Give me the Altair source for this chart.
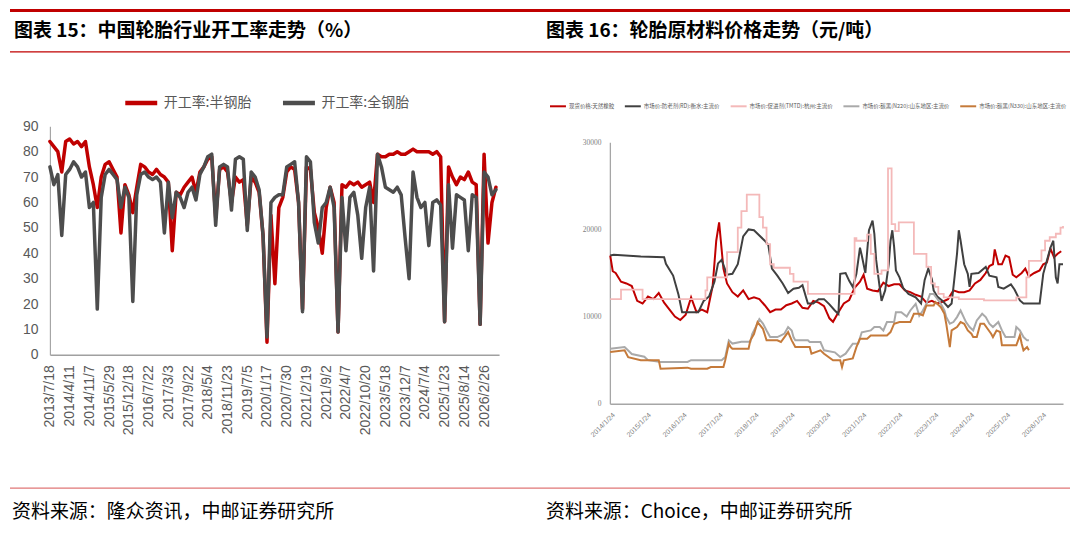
import json
import altair as alt
import pandas as pd

CJK = "Noto Sans CJK SC"

# ---------------- Left chart data (index units: 5 points per labelled category) ----------------
left_labels = ["2013/7/18", "2014/4/11", "2014/11/7", "2015/5/29", "2015/12/18", "2016/7/22",
               "2017/3/3", "2017/9/22", "2018/5/4", "2018/11/23", "2019/7/5", "2020/1/17",
               "2020/7/30", "2021/2/19", "2021/9/2", "2022/4/7", "2022/10/20", "2023/5/18",
               "2023/12/7", "2024/7/4", "2025/1/23", "2025/8/14", "2026/2/26"]

semi_steel = [84, 82, 80, 72, 84, 85, 83, 84, 82, 84,
              74, 67, 58, 70, 75, 76, 73, 70, 48, 67,
              63, 56, 66, 75, 74, 72, 71, 73, 71, 70,
              68, 41, 64, 63, 66, 68, 70, 64, 72, 74,
              77, 78, 54, 73, 74, 72, 60, 70, 68, 69,
              51, 70, 68, 64, 47, 5, 55, 28, 58, 62,
              72, 74, 73, 60, 18, 74, 73, 56, 50, 40,
              58, 66, 60, 9, 67, 66, 68, 67, 68, 66,
              67, 68, 60, 79, 78, 78, 79, 79, 80, 79,
              79, 80, 81, 80, 80, 80, 80, 79, 80, 78,
              13, 74, 70, 67, 70, 69, 72, 68, 67, 12,
              79, 44, 60, 66]

all_steel = [74, 67, 71, 47, 71, 73, 76, 74, 70, 72,
             58, 60, 18, 62, 71, 73, 71, 69, 58, 66,
             62, 21, 63, 71, 72, 70, 69, 70, 68, 48,
             68, 54, 64, 62, 58, 64, 66, 61, 71, 74,
             78, 79, 51, 74, 75, 74, 57, 77, 78, 77,
             49, 72, 70, 65, 47, 7, 60, 62, 63, 63,
             74, 75, 76, 60, 17, 78, 76, 52, 44, 58,
             60, 66, 58, 9, 62, 41, 62, 64, 55, 38,
             58, 66, 33, 79, 74, 66, 65, 64, 66, 63,
             46, 30, 72, 62, 58, 60, 43, 60, 61, 59,
             13, 67, 42, 63, 62, 61, 41, 63, 62, 12,
             72, 70, 63, 65]

SEMI = "开工率:半钢胎"
FULL = "开工率:全钢胎"

# ---------------- Right chart data (decimal year, yuan/ton) ----------------
rubber = [(2014.05, 17000), (2014.12, 15200), (2014.2, 15000), (2014.35, 14000), (2014.5, 13800),
          (2014.65, 13500), (2014.8, 11800), (2014.95, 11500), (2015.1, 12300), (2015.25, 12000),
          (2015.4, 12700), (2015.55, 11600), (2015.7, 10800), (2015.85, 10000), (2016.0, 9600),
          (2016.15, 10200), (2016.3, 12200), (2016.45, 10500), (2016.6, 10800), (2016.75, 10500),
          (2016.9, 13500), (2017.0, 18700), (2017.08, 20800), (2017.2, 15500), (2017.3, 13800),
          (2017.45, 12800), (2017.6, 12300), (2017.75, 13000), (2017.9, 12000), (2018.05, 12200),
          (2018.2, 12000), (2018.35, 11300), (2018.5, 10500), (2018.65, 10800), (2018.8, 10800),
          (2018.95, 11300), (2019.1, 11500), (2019.25, 11800), (2019.4, 11000), (2019.55, 10900),
          (2019.7, 11800), (2019.85, 11600), (2020.0, 11200), (2020.15, 9800), (2020.25, 9400),
          (2020.4, 10500), (2020.55, 11500), (2020.7, 11900), (2020.85, 13300), (2021.0, 14000),
          (2021.1, 14800), (2021.2, 13200), (2021.35, 13000), (2021.5, 12900), (2021.65, 13900),
          (2021.8, 13500), (2021.95, 13700), (2022.1, 13700), (2022.25, 13000), (2022.4, 12800),
          (2022.55, 12500), (2022.7, 12300), (2022.85, 11600), (2023.0, 11800), (2023.15, 11500),
          (2023.3, 11700), (2023.45, 12000), (2023.6, 13000), (2023.75, 12800), (2023.9, 12800),
          (2024.05, 13000), (2024.2, 13800), (2024.35, 14200), (2024.5, 15000), (2024.6, 15800),
          (2024.7, 16000), (2024.75, 17700), (2024.85, 16000), (2024.95, 16000), (2025.05, 17000),
          (2025.15, 16800), (2025.25, 14800), (2025.35, 14500), (2025.5, 15000), (2025.6, 15500),
          (2025.7, 14600), (2025.85, 15000), (2026.0, 15300), (2026.1, 16000), (2026.2, 16200),
          (2026.3, 17800), (2026.4, 16800), (2026.5, 17200), (2026.6, 17500)]

antioxidant_rd = [(2014.05, 17000), (2014.15, 17100), (2014.9, 16900), (2015.55, 16800), (2015.6, 16050),
                  (2015.8, 14700), (2015.95, 12500), (2016.05, 10500), (2016.5, 10500), (2016.65, 11800),
                  (2016.8, 12300), (2016.95, 14000), (2017.05, 16100), (2017.15, 16500), (2017.3, 14800),
                  (2017.45, 14900), (2017.6, 16000), (2017.75, 19200), (2017.9, 20000), (2018.05, 19900),
                  (2018.2, 19300), (2018.35, 18700), (2018.45, 18200), (2018.55, 15500), (2018.7, 14700),
                  (2018.85, 13800), (2019.0, 12700), (2019.15, 13200), (2019.3, 13300), (2019.4, 13600),
                  (2019.55, 11500), (2019.7, 11500), (2019.85, 12000), (2020.0, 12000), (2020.15, 11400),
                  (2020.3, 10700), (2020.4, 10300), (2020.45, 14900), (2020.6, 15000), (2020.7, 14100),
                  (2020.8, 13400), (2020.9, 14900), (2021.0, 17900), (2021.05, 17000), (2021.15, 15000),
                  (2021.25, 19900), (2021.35, 21000), (2021.4, 19500), (2021.45, 16500), (2021.5, 14900),
                  (2021.55, 13300), (2021.6, 11800), (2021.7, 13000), (2021.8, 16000), (2021.85, 18700),
                  (2021.9, 19900), (2021.95, 18000), (2022.0, 15300), (2022.1, 14500), (2022.2, 13300),
                  (2022.35, 12600), (2022.55, 12200), (2022.7, 11500), (2022.8, 14200), (2022.9, 15500),
                  (2023.0, 14300), (2023.05, 13000), (2023.15, 12300), (2023.3, 11800), (2023.45, 11100),
                  (2023.55, 11500), (2023.62, 14100), (2023.7, 17200), (2023.75, 19900), (2023.8, 18700),
                  (2023.9, 16000), (2024.0, 14900), (2024.05, 13400), (2024.1, 14900), (2024.3, 15000),
                  (2024.5, 15700), (2024.6, 14700), (2024.8, 14500), (2024.85, 13400), (2025.0, 13200),
                  (2025.2, 13700), (2025.3, 13100), (2025.45, 11850), (2025.55, 11500), (2026.0, 11500),
                  (2026.1, 14900), (2026.2, 16400), (2026.3, 17900), (2026.38, 18700), (2026.45, 14500),
                  (2026.5, 13800), (2026.55, 16000), (2026.65, 16000)]

accelerator_tmtd = [(2014.05, 12000), (2014.35, 13100), (2014.95, 12000), (2016.7, 13000), (2016.75, 14500),
                    (2017.3, 17400), (2017.6, 20200), (2017.7, 22100), (2017.85, 24000), (2018.2, 21400),
                    (2018.3, 20200), (2018.4, 18300), (2018.5, 16000), (2018.6, 15600), (2019.05, 14900),
                    (2019.15, 14000), (2019.55, 12600), (2020.85, 19000), (2020.9, 18700), (2021.2, 19400),
                    (2021.3, 17200), (2021.4, 14900), (2021.6, 15300), (2021.78, 27000), (2021.88, 20600),
                    (2021.98, 19800), (2022.08, 20800), (2022.5, 17200), (2022.85, 15700), (2022.98, 13800),
                    (2023.08, 13400), (2023.18, 12600), (2023.33, 12200), (2023.75, 12000), (2024.45, 11850),
                    (2025.35, 12200), (2025.63, 14500), (2025.7, 16400), (2026.05, 17600), (2026.15, 18700),
                    (2026.28, 19100), (2026.45, 19500), (2026.58, 20200), (2026.65, 20400)]

carbon_n220 = [(2014.05, 6300), (2014.45, 6500), (2014.55, 6100), (2014.65, 5700), (2015.0, 5400),
               (2015.1, 5000), (2015.45, 4800), (2016.2, 4800), (2016.3, 5000), (2017.15, 5000),
               (2017.25, 5350), (2017.35, 7270), (2017.45, 6900), (2017.7, 7100), (2017.95, 7100),
               (2018.0, 8000), (2018.1, 8800), (2018.2, 9700), (2018.3, 9200), (2018.4, 8400),
               (2018.5, 7650), (2018.7, 7650), (2018.8, 7850), (2018.9, 8050), (2019.0, 8800),
               (2019.1, 8400), (2019.15, 7650), (2019.2, 7270), (2019.55, 7270), (2019.6, 7080),
               (2019.9, 7080), (2020.0, 6130), (2020.3, 5900), (2020.45, 5360), (2020.6, 5740),
               (2020.8, 6890), (2020.95, 6900), (2021.05, 8200), (2021.3, 8410), (2021.4, 8800),
               (2021.55, 8800), (2021.65, 8410), (2021.75, 9370), (2021.95, 9370), (2022.0, 10500),
               (2022.15, 10500), (2022.3, 10000), (2022.4, 10700), (2022.55, 11470), (2022.65, 10100),
               (2022.75, 10700), (2022.85, 11470), (2022.95, 12600), (2023.05, 12600), (2023.25, 11470),
               (2023.35, 10700), (2023.4, 9940), (2023.5, 9180), (2023.6, 9370), (2023.7, 9940),
               (2023.8, 10700), (2023.95, 9370), (2024.05, 8800), (2024.15, 8410), (2024.25, 9560),
               (2024.4, 10320), (2024.5, 9940), (2024.6, 9180), (2024.7, 8800), (2024.85, 9370),
               (2024.95, 8410), (2025.05, 7650), (2025.3, 7650), (2025.35, 8800), (2025.45, 8410),
               (2025.55, 7650), (2025.65, 7270), (2025.7, 7270)]

carbon_n330 = [(2014.05, 5930), (2014.45, 6130), (2014.55, 5350), (2014.9, 5000), (2015.4, 5000),
               (2015.45, 4020), (2016.2, 4140), (2016.3, 4020), (2016.75, 4020), (2016.85, 4210),
               (2017.2, 4210), (2017.25, 5000), (2017.35, 6890), (2017.4, 6500), (2017.45, 6320),
               (2017.9, 6320), (2017.95, 7270), (2018.05, 8000), (2018.15, 9370), (2018.3, 8600),
               (2018.4, 7270), (2018.7, 7270), (2018.8, 7080), (2019.0, 8225), (2019.1, 7270),
               (2019.2, 6500), (2019.6, 6500), (2019.65, 5740), (2019.9, 6130), (2020.0, 5740),
               (2020.25, 4980), (2020.45, 4980), (2020.5, 4210), (2020.55, 4980), (2020.8, 5200),
               (2020.9, 6500), (2021.0, 7460), (2021.2, 7460), (2021.3, 7840), (2021.75, 7840),
               (2021.85, 8225), (2021.95, 9180), (2022.1, 9370), (2022.4, 9370), (2022.5, 10320),
               (2022.65, 10320), (2022.75, 10130), (2022.85, 11280), (2023.05, 11280), (2023.1, 11660),
               (2023.25, 11080), (2023.35, 10320), (2023.4, 9180), (2023.5, 6500), (2023.55, 8410),
               (2023.7, 8800), (2023.8, 9370), (2023.9, 9180), (2024.0, 8410), (2024.1, 8030),
               (2024.15, 7650), (2024.25, 7650), (2024.35, 9180), (2024.45, 9180), (2024.55, 8600),
               (2024.65, 8030), (2024.7, 7650), (2024.8, 8410), (2024.9, 8225), (2024.95, 6700),
               (2025.35, 6700), (2025.45, 7840), (2025.5, 6890), (2025.55, 6130), (2025.65, 6500),
               (2025.7, 6130)]

right_names = ["现货价格:天然橡胶", "市场价:防老剂(RD):衡水:主流价", "市场价:促进剂(TMTD):杭州:主流价",
               "市场价:碳黑(N220):山东地区:主流价", "市场价:碳黑(N330):山东地区:主流价"]
right_colors = ["#C00000", "#404040", "#F4B9B9", "#A9A9A9", "#C57A3A"]
right_series = [rubber, antioxidant_rd, accelerator_tmtd, carbon_n220, carbon_n330]
right_ticks = [2014.065 + k for k in range(13)]

title_left = "图表 15：中国轮胎行业开工率走势（%）"
title_right = "图表 16：轮胎原材料价格走势（元/吨）"
source_left = "资料来源：隆众资讯，中邮证券研究所"
source_right = "资料来源：Choice，中邮证券研究所"

# ---------------- Build frames ----------------
left_df = pd.concat([
    pd.DataFrame({"i": range(len(semi_steel)), "v": semi_steel, "s": SEMI}),
    pd.DataFrame({"i": range(len(all_steel)), "v": all_steel, "s": FULL}),
])
right_df = pd.concat([
    pd.DataFrame({"t": [p[0] for p in ser], "v": [p[1] for p in ser], "s": name})
    for ser, name in zip(right_series, right_names)
])
one = pd.DataFrame({"a": [0]})

LW, LH = 450, 229
RW, RH = 454, 278

# ---------------- Left panel ----------------
lx = alt.X("i:Q", scale=alt.Scale(domain=[0, 113.8], nice=False, zero=False),
           axis=alt.Axis(values=list(range(0, 111, 5)),
                         labelExpr=json.dumps(left_labels) + "[round(datum.value/5)]",
                         labelAngle=-90, labelFont="Liberation Sans", labelFontSize=14,
                         labelColor="#595959", labelPadding=10, ticks=False,
                         domainColor="#A0A0A0", domainWidth=1.5, grid=False, title=None,
                         labelOverlap=False, labelFlush=False))
ly = alt.Y("v:Q", scale=alt.Scale(domain=[0, 90], nice=False),
           axis=alt.Axis(values=list(range(0, 91, 10)), labelFont="Liberation Sans",
                         labelFontSize=14, labelColor="#595959", labelPadding=12,
                         ticks=False, domainColor="#A6A6A6", domainWidth=1.2,
                         grid=False, title=None))
lc = alt.Color("s:N", scale=alt.Scale(domain=[SEMI, FULL], range=["#C00000", "#4D4D4D"]),
               legend=alt.Legend(orient="none", legendX=73, legendY=-42, direction="horizontal",
                                 title=None, symbolType="stroke", symbolSize=1024,
                                 symbolStrokeWidth=4.5, labelFont=CJK, labelFontSize=14,
                                 labelColor="#595959", labelOffset=4, columnPadding=22))

lbase = alt.Chart(left_df)
red_line = lbase.transform_filter(alt.datum.s == SEMI).mark_line(
    strokeWidth=3.5, strokeJoin="round", strokeCap="round").encode(x=lx, y=ly, color=lc)
gray_line = lbase.transform_filter(alt.datum.s == FULL).mark_line(
    strokeWidth=3.5, strokeJoin="round", strokeCap="round").encode(x=lx, y=ly, color=lc)

deco = alt.Chart(one)
top_rule = deco.mark_rule(color="#C00000", strokeWidth=3).encode(
    x=alt.value(-40), x2=alt.value(1022), y=alt.value(-116))
mid_rule = deco.mark_rule(color="#C00000", strokeWidth=1.2).encode(
    x=alt.value(-40), x2=alt.value(1022), y=alt.value(-74.5))
bot_rule = deco.mark_rule(color="#E07777", strokeWidth=1.3).encode(
    x=alt.value(-40), x2=alt.value(1022), y=alt.value(362.5))
t_left = deco.mark_text(align="left", baseline="middle", font=CJK, fontSize=19,
                        fontWeight="bold", color="#000000").encode(
    x=alt.value(-36), y=alt.value(-95.5), text=alt.value(title_left))
s_left = deco.mark_text(align="left", baseline="middle", font=CJK, fontSize=19,
                        color="#000000").encode(
    x=alt.value(-38), y=alt.value(386.5), text=alt.value(source_left))

left = alt.layer(red_line, gray_line, top_rule, mid_rule, bot_rule, t_left, s_left).properties(
    width=LW, height=LH)

# ---------------- Right panel ----------------
rx = alt.X("t:Q", scale=alt.Scale(domain=[2014.04, 2026.65], nice=False, zero=False),
           axis=alt.Axis(values=right_ticks, labelExpr="floor(datum.value) + '/1/24'",
                         labelAngle=-45, labelFont="Liberation Sans", labelFontSize=7,
                         labelColor="#7F7F7F", labelPadding=7, ticks=False,
                         domainColor="#A6A6A6", domainWidth=1.5, grid=False, title=None,
                         labelOverlap=False, labelFlush=False))
ry = alt.Y("v:Q", scale=alt.Scale(domain=[0, 30000], nice=False, range=[RH, 16]),
           axis=alt.Axis(values=[0, 10000, 20000, 30000], format="d", labelFont="Liberation Serif",
                         labelFontSize=7.5, labelColor="#7F7F7F", labelPadding=9,
                         ticks=False, domainColor="#A6A6A6", domainWidth=1.3,
                         grid=False, title=None))
rc = alt.Color("s:N", scale=alt.Scale(domain=right_names, range=right_colors),
               legend=alt.Legend(orient="none", legendX=-61, legendY=-29, direction="horizontal",
                                 title=None, symbolType="stroke", symbolSize=256,
                                 symbolStrokeWidth=2, labelFont=CJK, labelFontSize=5.5,
                                 labelColor="#595959", labelOffset=2, columnPadding=6))

rbase = alt.Chart(right_df)
r_layers = []
for name in right_names:
    interp = "step-after" if "TMTD" in name else "linear"
    sw = 1.8 if "TMTD" in name else 2
    r_layers.append(rbase.transform_filter(alt.datum.s == name).mark_line(
        strokeWidth=sw, interpolate=interp).encode(x=rx, y=ry, color=rc))

t_right = deco.mark_text(align="left", baseline="middle", font=CJK, fontSize=19,
                         fontWeight="bold", color="#000000").encode(
    x=alt.value(-64), y=alt.value(-95.5), text=alt.value(title_right))
s_right = deco.mark_text(align="left", baseline="middle", font=CJK, fontSize=19,
                         color="#000000").encode(
    x=alt.value(-64), y=alt.value(386.5), text=alt.value(source_right))

right = alt.layer(*r_layers, t_right, s_right).properties(width=RW, height=RH)

chart = alt.hconcat(left, right, spacing=111, bounds="flush").resolve_scale(
    x="independent", y="independent", color="independent"
).resolve_legend(color="independent").properties(padding=0).configure_view(stroke=None)

chart.save("out.html", embed_options={"renderer": "svg", "actions": False})
